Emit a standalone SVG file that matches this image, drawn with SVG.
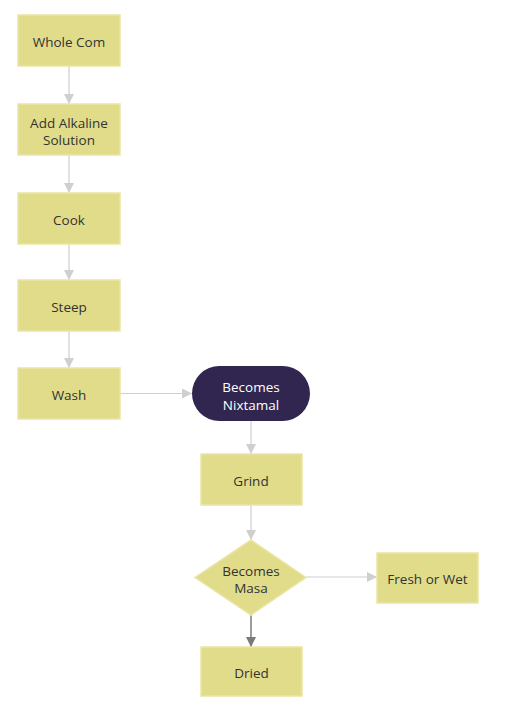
<svg xmlns="http://www.w3.org/2000/svg" width="509" height="712" viewBox="0 0 509 712">
<style>
.box{fill:#e0dc8a;stroke:#eae6a6;stroke-width:1.5}
.t{font-family:"Open Sans","Liberation Sans",sans-serif;font-size:13.5px;fill:#333;text-anchor:middle}
.tw{font-family:"Open Sans","Liberation Sans",sans-serif;font-size:13.5px;fill:#fff;text-anchor:middle}
.c{stroke:#cfcfcf;stroke-width:1.2;fill:none}
.cd{stroke:#7a7a7a;stroke-width:1.5;fill:none}
</style>
<defs>
<marker id="a" viewBox="0 0 10 10" refX="10" refY="5" markerWidth="10" markerHeight="10" markerUnits="userSpaceOnUse" orient="auto"><path d="M0,0 L10,5 L0,10 Z" fill="#cfcfcf"/></marker>
<marker id="ad" viewBox="0 0 10 10" refX="10" refY="5" markerWidth="10" markerHeight="10" markerUnits="userSpaceOnUse" orient="auto"><path d="M0,0 L10,5 L0,10 Z" fill="#7a7a7a"/></marker>
</defs>
<rect width="509" height="712" fill="#fff"/>
<g id="connectors">
<line class="c" x1="69" y1="66" x2="69" y2="104" marker-end="url(#a)"/>
<line class="c" x1="69" y1="155" x2="69" y2="193" marker-end="url(#a)"/>
<line class="c" x1="69" y1="244" x2="69" y2="280" marker-end="url(#a)"/>
<line class="c" x1="69" y1="331" x2="69" y2="368" marker-end="url(#a)"/>
<line class="c" x1="120" y1="393.5" x2="192" y2="393.5" marker-end="url(#a)"/>
<line class="c" x1="251" y1="421" x2="251" y2="454" marker-end="url(#a)"/>
<line class="c" x1="251" y1="505" x2="251" y2="540" marker-end="url(#a)"/>
<line class="c" x1="306" y1="577" x2="377" y2="577" marker-end="url(#a)"/>
<line class="cd" x1="251" y1="615" x2="251" y2="647" marker-end="url(#ad)"/>
</g>
<g id="whole-com"><rect class="box" x="18" y="15" width="102" height="51"/><text class="t" x="69" y="46.5">Whole Com</text></g>
<g id="add-alkaline"><rect class="box" x="18" y="104" width="102" height="51"/><text class="t" x="69" y="127.5">Add Alkaline</text><text class="t" x="69" y="144.5">Solution</text></g>
<g id="cook"><rect class="box" x="18" y="193" width="102" height="51"/><text class="t" x="69" y="224.5">Cook</text></g>
<g id="steep"><rect class="box" x="18" y="280" width="102" height="51"/><text class="t" x="69" y="311.5">Steep</text></g>
<g id="wash"><rect class="box" x="18" y="368" width="102" height="51"/><text class="t" x="69" y="399.5">Wash</text></g>
<g id="nixtamal"><rect x="192" y="366" width="118" height="55" rx="27.5" fill="#302650"/><text class="tw" x="251" y="391.5">Becomes</text><text class="tw" x="251" y="409.5">Nixtamal</text></g>
<g id="grind"><rect class="box" x="201" y="454" width="101" height="51"/><text class="t" x="251" y="485.5">Grind</text></g>
<g id="masa"><polygon class="box" points="251,540 306,577.5 251,615 195,577.5"/><text class="t" x="251" y="575.5">Becomes</text><text class="t" x="251" y="592.5">Masa</text></g>
<g id="fresh"><rect class="box" x="377" y="553" width="101" height="50"/><text class="t" x="427.5" y="583.5">Fresh or Wet</text></g>
<g id="dried"><rect class="box" x="201" y="647" width="101" height="49"/><text class="t" x="251.5" y="677.5">Dried</text></g>
</svg>
